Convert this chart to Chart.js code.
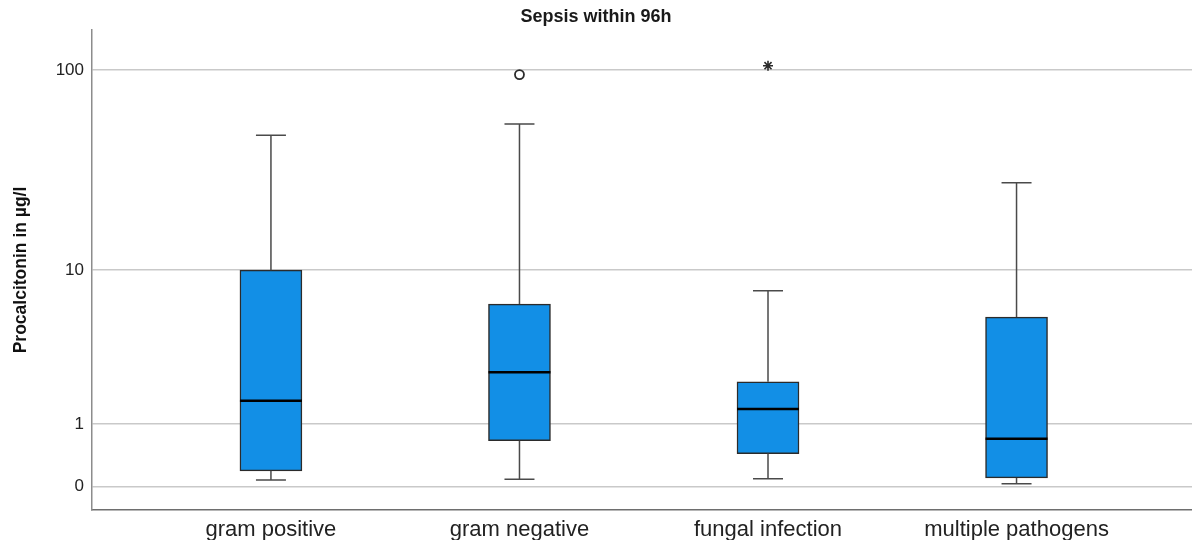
<!DOCTYPE html>
<html>
<head>
<meta charset="utf-8">
<script src="https://cdn.jsdelivr.net/npm/chart.js@4/dist/chart.umd.min.js"></script>
<style>
  html, body { margin: 0; padding: 0; background: #fff; overflow: hidden; }
  #wrap { width: 1192px; height: 540px; }
</style>
</head>
<body>
<div id="wrap"><canvas id="pctChart"></canvas></div>
<script>
// Procalcitonin (µg/l) by pathogen group, sepsis within 96h
const groups       = ['gram positive', 'gram negative', 'fungal infection', 'multiple pathogens'];
const whiskerLow   = [0.075, 0.083, 0.09, 0.03];
const q1           = [0.19, 0.66, 0.44, 0.10];
const median       = [1.59, 2.55, 1.36, 0.70];
const q3           = [10.0, 6.55, 2.19, 5.54];
const whiskerHigh  = [48.0, 54.5, 7.75, 28.0];

// outliers (circle) and extreme values (star): group index + value
const outlierGroup = [1];
const outlierValue = [95];
const extremeGroup = [2];
const extremeValue = [105];

const yTicks = [0, 1, 10, 100];

// axis is log10(v + 1) so that 0 can sit on it
const tf = v => Math.log10(v + 1);

const BOX_FILL   = '#128fe6';
const LINE_DARK  = '#2b2b2b';
const WHISKER    = '#4a4a4a';
const GRID       = '#c9c9c9';

const boxPlot = {
  id: 'boxPlot',
  afterDatasetsDraw(chart) {
    const { ctx, scales: { x, y } } = chart;
    const bars = chart.getDatasetMeta(0).data;
    ctx.save();
    groups.forEach((g, i) => {
      const cx   = x.getPixelForValue(i + 1);
      const half = bars[i].width / 2;
      const cap  = 15;
      const yHi  = y.getPixelForValue(tf(whiskerHigh[i]));
      const yQ3  = y.getPixelForValue(tf(q3[i]));
      const yQ1  = y.getPixelForValue(tf(q1[i]));
      const yLo  = y.getPixelForValue(tf(whiskerLow[i]));
      const yMed = y.getPixelForValue(tf(median[i]));

      ctx.strokeStyle = WHISKER;
      ctx.lineWidth = 1.5;
      ctx.beginPath();
      ctx.moveTo(cx, yHi); ctx.lineTo(cx, yQ3);
      ctx.moveTo(cx, yQ1); ctx.lineTo(cx, yLo);
      ctx.moveTo(cx - cap, yHi); ctx.lineTo(cx + cap, yHi);
      ctx.moveTo(cx - cap, yLo); ctx.lineTo(cx + cap, yLo);
      ctx.stroke();

      ctx.strokeStyle = '#000';
      ctx.lineWidth = 2.5;
      ctx.beginPath();
      ctx.moveTo(cx - half, yMed); ctx.lineTo(cx + half, yMed);
      ctx.stroke();
    });
    ctx.restore();
  }
};

new Chart(document.getElementById('pctChart'), {
  type: 'bar',
  data: {
    datasets: [
      {
        label: 'IQR',
        data: groups.map((g, i) => ({ x: i + 1, y: [tf(q1[i]), tf(q3[i])] })),
        backgroundColor: BOX_FILL,
        borderColor: LINE_DARK,
        borderWidth: 1.5,
        borderSkipped: false,
        barThickness: 62,
      },
      {
        type: 'scatter',
        label: 'outlier',
        data: outlierGroup.map((g, i) => ({ x: g + 1, y: tf(outlierValue[i]) })),
        pointStyle: 'circle',
        pointRadius: 4.5,
        borderColor: LINE_DARK,
        borderWidth: 1.8,
        backgroundColor: 'rgba(0,0,0,0)',
      },
      {
        type: 'scatter',
        label: 'extreme',
        data: extremeGroup.map((g, i) => ({ x: g + 1, y: tf(extremeValue[i]) })),
        pointStyle: 'star',
        pointRadius: 5,
        borderColor: LINE_DARK,
        borderWidth: 1.6,
      },
    ],
  },
  options: {
    responsive: true,
    maintainAspectRatio: false,
    animation: false,
    layout: { padding: 0, autoPadding: false },
    plugins: {
      legend: { display: false },
      tooltip: { enabled: false },
      title: {
        display: true,
        text: 'Sepsis within 96h',
        color: '#1a1a1a',
        font: { family: '"Liberation Sans", Arial, sans-serif', size: 18, weight: 'bold', lineHeight: 1.2 },
        padding: { top: 6, bottom: 2.4 },
      },
    },
    scales: {
      x: {
        type: 'linear',
        offset: false,
        min: 0.28,
        max: 4.706,
        afterBuildTicks: s => { s.ticks = groups.map((g, i) => ({ value: i + 1 })); },
        afterFit: s => { s.height = 30; s.paddingLeft = 0; s.paddingRight = 0; },
        ticks: {
          autoSkip: false,
          maxRotation: 0,
          padding: 7,
          color: '#222',
          font: { family: '"Liberation Sans", Arial, sans-serif', size: 22 },
          callback: (v, idx) => groups[idx],
        },
        grid: { display: false, drawTicks: false },
        border: { display: true, color: '#6e6e6e', width: 1.5 },
      },
      y: {
        type: 'linear',
        min: -0.113,
        max: 2.197,
        afterBuildTicks: s => { s.ticks = yTicks.map(v => ({ value: tf(v) })); },
        afterFit: s => { s.width = 92; },
        ticks: {
          padding: 8,
          color: '#222',
          font: { family: '"Liberation Sans", Arial, sans-serif', size: 17 },
          callback: (v, idx) => String(yTicks[idx]),
        },
        grid: { color: GRID, lineWidth: 1.5, drawTicks: false },
        border: { display: true, color: '#8c8c8c', width: 1.5 },
        title: {
          display: true,
          text: 'Procalcitonin in µg/l',
          color: '#111',
          font: { family: '"Liberation Sans", Arial, sans-serif', size: 17.5, weight: 'bold', lineHeight: 1.2 },
          padding: { top: 11, bottom: 0 },
        },
      },
    },
  },
  plugins: [boxPlot],
});
</script>
</body>
</html>
